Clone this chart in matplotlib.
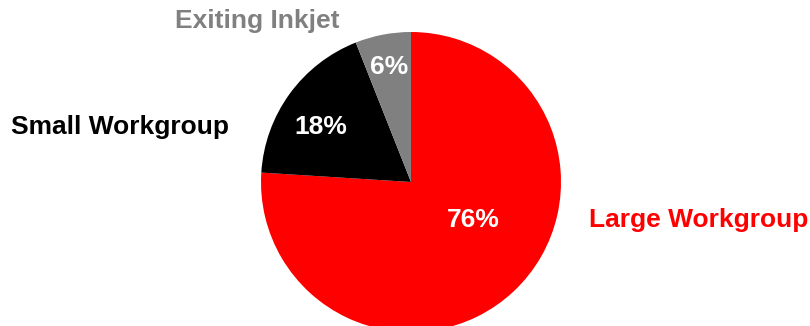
import matplotlib.pyplot as plt

plt.rcParams['font.family'] = ['Liberation Sans', 'DejaVu Sans']

# market share by segment
segments = ['Large Workgroup', 'Small Workgroup', 'Exiting Inkjet']
shares = [76, 18, 6]
colours = ['#ff0000', '#000000', '#808080']

# pixel-space layout: figure is 810 x 326, y measured from the bottom
W, H = 810, 326
cx, cy, r = 411, H - 182, 150

fig = plt.figure(figsize=(W / 100, H / 100), dpi=100)
ax = fig.add_axes([0, 0, 1, 1])

wedges, _ = ax.pie(shares, colors=colours, startangle=90, counterclock=False,
                   center=(cx, cy), radius=r, frame=True,
                   wedgeprops=dict(linewidth=0))
ax.set_xlim(0, W)
ax.set_ylim(0, H)
ax.set_aspect('equal')
ax.axis('off')

# percentage labels inside the wedges
pct_pos = [(473, H - 220), (321, H - 127), (389, H - 67)]
for s, (x, y) in zip(shares, pct_pos):
    ax.text(x, y, f'{s}%', color='white', fontsize=19, fontweight='bold',
            ha='center', va='center')

# category labels outside
ax.text(589, H - 220, segments[0], color=colours[0], fontsize=19,
        fontweight='bold', ha='left', va='center')
ax.text(229, H - 127, segments[1], color=colours[1], fontsize=19,
        fontweight='bold', ha='right', va='center')
ax.text(257, H - 21, segments[2], color=colours[2], fontsize=19,
        fontweight='bold', ha='center', va='center')

fig.savefig('out.png', dpi=100, facecolor='white')
